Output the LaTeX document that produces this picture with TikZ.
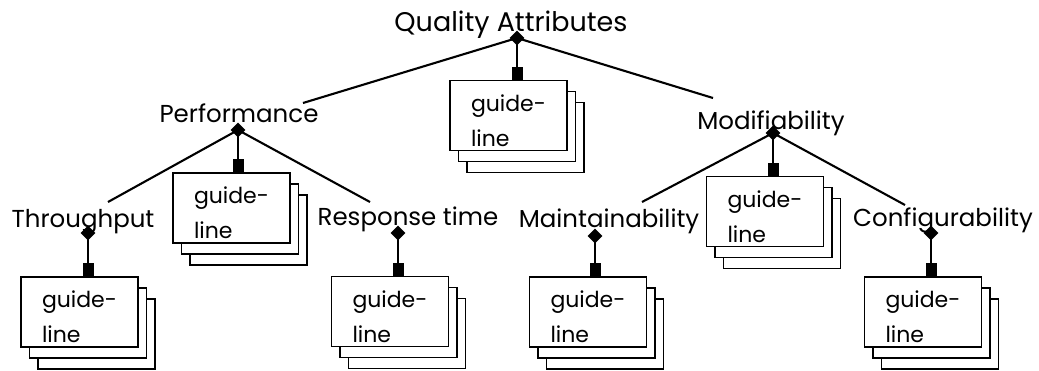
\documentclass[tikz,border=0pt]{standalone}
\usepackage{fontspec}
\setmainfont{Poppins}
\usetikzlibrary{arrows.meta,shapes.geometric,shadows}
% two-line card text: fixed 35pt baseline step, strut lifts the block top
\newcommand{\cardtext}{\vbox{\baselineskip=35pt\lineskiplimit=-100pt
  \hbox{\rule{0pt}{27pt}guide-}\hbox{line}}}
\begin{document}
\begin{tikzpicture}[x=1pt,y=-1pt,
  attr/.style={anchor=base,inner sep=0pt,font=\fontsize{24.5}{28}\selectfont},
  junction/.style={diamond,fill=black,inner sep=0pt,minimum size=15pt},
  link/.style={line width=2.1pt},
  uses/.style={line width=2.1pt,-{Square[length=13pt,width=11pt]}},
  guidecard/.style={draw,line width=1.7pt,fill=white,minimum width=117pt,minimum height=70pt,
    inner sep=0pt,font=\fontsize{22}{26}\selectfont,
    double copy shadow={shadow xshift=8.5pt,shadow yshift=-11pt,draw,line width=1.7pt,fill=white}}]
\useasboundingbox (0,0) rectangle (1039,371);

% attribute labels
\node[attr,font=\fontsize{27}{30}\selectfont] (qa) at (511,32) {Quality Attributes};
\node[attr] (perf)  at (239,123) {Performance};
\node[attr] (mod)   at (771,130) {Modifiability};
\node[attr] (thr)   at (83,228)  {Throughput};
\node[attr] (resp)  at (408,226) {Response time};
\node[attr] (maint) at (609,228) {Maintainability};
\node[attr] (conf)  at (943,227) {Configurability};

% guideline cards
\node[guidecard] (gQ) at (508.5,115.5) {\cardtext};
\node[guidecard] (gP) at (231.5,208)   {\cardtext};
\node[guidecard] (gM) at (765,211.5)   {\cardtext};
\node[guidecard] (gT) at (79.5,312)    {\cardtext};
\node[guidecard] (gR) at (390,311.5)   {\cardtext};
\node[guidecard] (gA) at (588,312)     {\cardtext};
\node[guidecard] (gC) at (923,312)     {\cardtext};

% junction points
\node[junction] (jQ) at (517,38)  {};
\node[junction] (jP) at (238,130) {};
\node[junction] (jM) at (773,133) {};
\node[junction] (jT) at (88,233)  {};
\node[junction] (jR) at (398,233) {};
\node[junction] (jA) at (595,236) {};
\node[junction] (jC) at (931,233) {};

% ends of the branch lines at the child labels
\coordinate (ePerf)  at (303,103);
\coordinate (eMod)   at (713,98);
\coordinate (eThr)   at (108,202);
\coordinate (eResp)  at (370,202);
\coordinate (eMaint) at (642,202);
\coordinate (eConf)  at (905,205);

% branches
\draw[link] (jQ.center) -- (ePerf);
\draw[link] (jQ.center) -- (eMod);
\draw[link] (jP.center) -- (eThr);
\draw[link] (jP.center) -- (eResp);
\draw[link] (jM.center) -- (eMaint);
\draw[link] (jM.center) -- (eConf);

% links to guideline cards
\draw[uses] (jQ.center) -- (jQ |- gQ.north);
\draw[uses] (jP.center) -- (jP |- gP.north);
\draw[uses] (jM.center) -- (jM |- gM.north);
\draw[uses] (jT.center) -- (jT |- gT.north);
\draw[uses] (jR.center) -- (jR |- gR.north);
\draw[uses] (jA.center) -- (jA |- gA.north);
\draw[uses] (jC.center) -- (jC |- gC.north);
\end{tikzpicture}
\end{document}
